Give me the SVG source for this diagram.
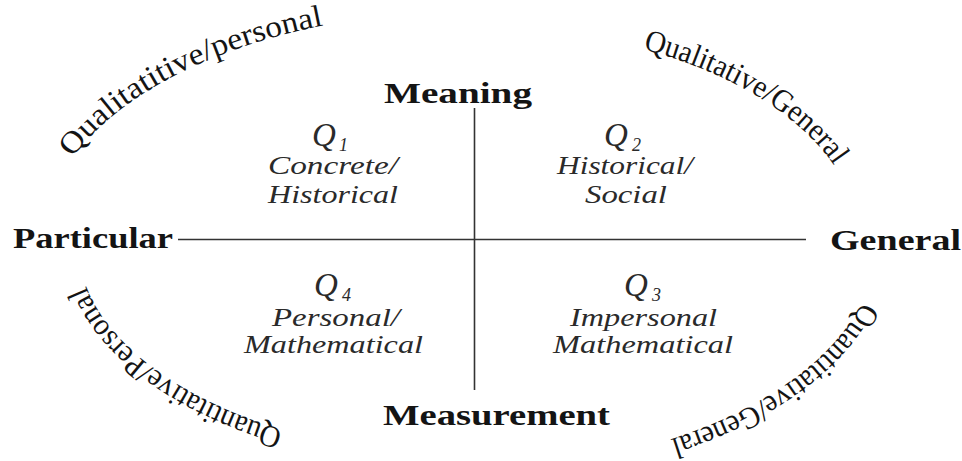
<svg xmlns="http://www.w3.org/2000/svg" xmlns:xlink="http://www.w3.org/1999/xlink" width="962" height="461" viewBox="0 0 962 461">
<style>
.ax{font-family:"Liberation Serif","Times New Roman",serif;font-weight:bold;font-size:29px;fill:#141414}
.it{font-family:"Liberation Serif","Times New Roman",serif;font-style:italic;font-size:26px;fill:#2a2a2a}
.q{font-family:"Liberation Serif","Times New Roman",serif;font-style:italic;font-size:33px;fill:#2a2a2a}
.sub{font-family:"Liberation Serif","Times New Roman",serif;font-style:italic;font-size:18px;fill:#2a2a2a}
.arc{font-family:"Liberation Serif","Times New Roman",serif;font-size:31px;fill:#141414}
.ln{stroke:#333;stroke-width:1.6;fill:none}
</style>
<defs>
<path id="pTL" d="M72.6,157.9 A430,229 0 0 1 326.9,24.8"/>
<path id="pTR" d="M643,49 A386,212 0 0 1 835,167"/>
<path id="pBL" d="M283,430 A397,216.7 0 0 1 85,284"/>
<path id="pBR" d="M862,302 A408,228 0 0 1 668,440"/>
</defs>
<rect width="962" height="461" fill="#fff"/>
<g id="connectors">
<line class="ln" x1="178" y1="239.5" x2="806" y2="239.5"/>
<line class="ln" x1="474.5" y1="108" x2="474.5" y2="390"/>
</g>
<g id="meaning"><text class="ax" x="384" y="103" textLength="148" lengthAdjust="spacingAndGlyphs">Meaning</text></g>
<g id="measurement"><text class="ax" x="383" y="425" textLength="227" lengthAdjust="spacingAndGlyphs">Measurement</text></g>
<g id="particular"><text class="ax" x="13" y="248" textLength="160" lengthAdjust="spacingAndGlyphs">Particular</text></g>
<g id="general"><text class="ax" x="830" y="250" textLength="131" lengthAdjust="spacingAndGlyphs">General</text></g>
<g id="q1">
<text class="q" x="312" y="146">Q</text><text class="sub" x="339" y="151">1</text>
<text class="it" x="268" y="174" textLength="130" lengthAdjust="spacingAndGlyphs">Concrete/</text>
<text class="it" x="268" y="203" textLength="130" lengthAdjust="spacingAndGlyphs">Historical</text>
</g>
<g id="q2">
<text class="q" x="604" y="146">Q</text><text class="sub" x="632" y="151">2</text>
<text class="it" x="557" y="174" textLength="136" lengthAdjust="spacingAndGlyphs">Historical/</text>
<text class="it" x="585" y="203" textLength="82" lengthAdjust="spacingAndGlyphs">Social</text>
</g>
<g id="q4">
<text class="q" x="314" y="296">Q</text><text class="sub" x="342" y="301">4</text>
<text class="it" x="272" y="326" textLength="128" lengthAdjust="spacingAndGlyphs">Personal/</text>
<text class="it" x="244" y="353" textLength="179" lengthAdjust="spacingAndGlyphs">Mathematical</text>
</g>
<g id="q3">
<text class="q" x="624" y="296">Q</text><text class="sub" x="652" y="301">3</text>
<text class="it" x="570" y="326" textLength="147" lengthAdjust="spacingAndGlyphs">Impersonal</text>
<text class="it" x="553" y="353" textLength="180" lengthAdjust="spacingAndGlyphs">Mathematical</text>
</g>
<g id="qual-personal"><text class="arc"><textPath href="#pTL" xlink:href="#pTL" textLength="290" lengthAdjust="spacingAndGlyphs">Qualitatitive/personal</textPath></text></g>
<g id="qual-general"><text class="arc"><textPath href="#pTR" xlink:href="#pTR" textLength="228" lengthAdjust="spacingAndGlyphs">Qualitative/General</textPath></text></g>
<g id="quant-personal"><text class="arc"><textPath href="#pBL" xlink:href="#pBL" textLength="252" lengthAdjust="spacingAndGlyphs">Quantitative/Personal</textPath></text></g>
<g id="quant-general"><text class="arc"><textPath href="#pBR" xlink:href="#pBR" textLength="242" lengthAdjust="spacingAndGlyphs">Quantitative/General</textPath></text></g>
</svg>
